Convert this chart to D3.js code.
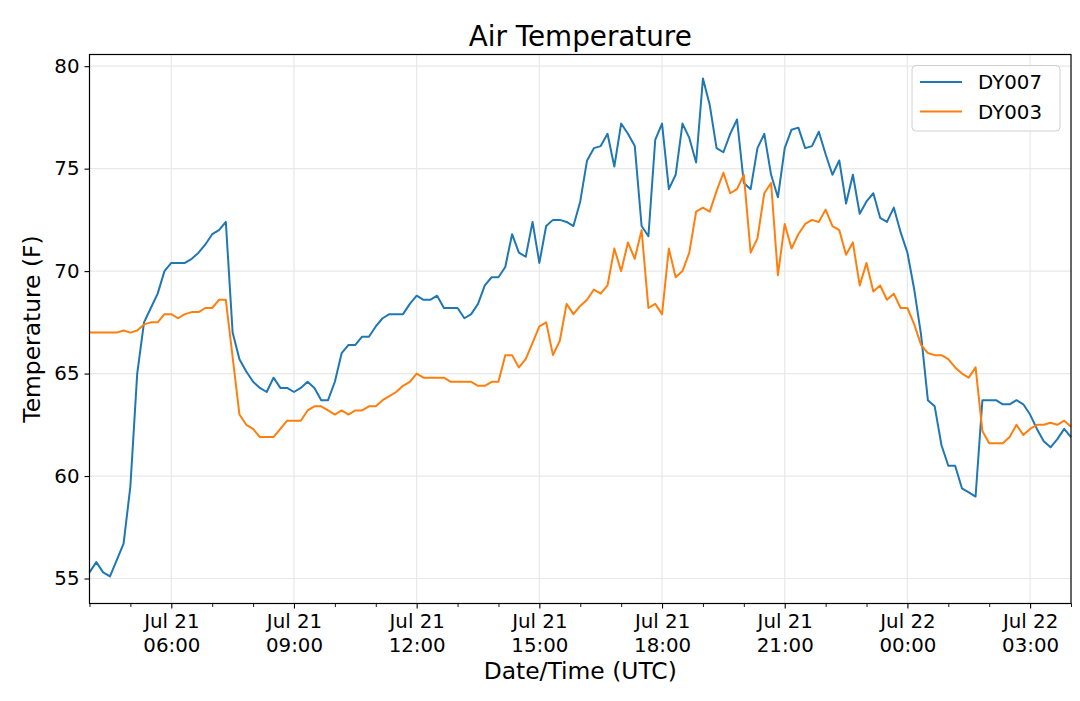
<!DOCTYPE html>
<html><head><meta charset="utf-8">
<script src="https://cdn.jsdelivr.net/npm/d3@7"></script>
<style>body{margin:0;background:#fff} svg text{font-family:"DejaVu Sans",sans-serif;fill:#000}</style>
</head><body><svg id="c" width="1080" height="701"></svg>
<script>
// ---- data ----
const startTime = "2019-07-21T04:00:00Z";   // first sample (UTC)
const stepMinutes = 10;                      // sampling interval
const seriesNames = ["DY007", "DY003"];
const dy007 = [
55.3,55.8,55.3,55.1,55.9,56.7,59.5,65.0,67.5,68.2,68.9,70.0,
70.4,70.4,70.4,70.6,70.9,71.3,71.8,72.0,72.4,67.0,65.7,65.1,
64.6,64.3,64.1,64.8,64.3,64.3,64.1,64.3,64.6,64.3,63.7,63.7,
64.6,66.0,66.4,66.4,66.8,66.8,67.3,67.7,67.9,67.9,67.9,68.4,
68.8,68.6,68.6,68.8,68.2,68.2,68.2,67.7,67.9,68.4,69.3,69.7,
69.7,70.2,71.8,70.9,70.7,72.4,70.4,72.2,72.5,72.5,72.4,72.2,
73.4,75.4,76.0,76.1,76.7,75.1,77.2,76.7,76.1,72.2,71.7,76.4,
77.2,74.0,74.7,77.2,76.5,75.3,79.4,78.1,76.0,75.8,76.7,77.4,
74.3,74.0,76.0,76.7,74.7,73.6,76.0,76.9,77.0,76.0,76.1,76.8,
75.7,74.7,75.4,73.3,74.7,72.8,73.4,73.8,72.6,72.4,73.1,71.9,
70.9,69.1,66.9,63.7,63.4,61.5,60.5,60.5,59.4,59.2,59.0,63.7,
63.7,63.7,63.5,63.5,63.7,63.5,63.0,62.3,61.7,61.4,61.8,62.3,
61.9];
const dy003 = [
67.0,67.0,67.0,67.0,67.0,67.1,67.0,67.1,67.4,67.5,67.5,67.9,
67.9,67.7,67.9,68.0,68.0,68.2,68.2,68.6,68.6,65.8,63.0,62.5,
62.3,61.9,61.9,61.9,62.3,62.7,62.7,62.7,63.2,63.4,63.4,63.2,
63.0,63.2,63.0,63.2,63.2,63.4,63.4,63.7,63.9,64.1,64.4,64.6,
65.0,64.8,64.8,64.8,64.8,64.6,64.6,64.6,64.6,64.4,64.4,64.6,
64.6,65.9,65.9,65.3,65.7,66.5,67.3,67.5,65.9,66.6,68.4,67.9,
68.3,68.6,69.1,68.9,69.3,71.1,70.0,71.4,70.6,72.0,68.2,68.4,
67.9,71.1,69.7,70.0,70.9,72.9,73.1,72.9,73.9,74.8,73.8,74.0,
74.7,70.9,71.6,73.8,74.3,69.8,72.3,71.1,71.8,72.3,72.5,72.4,
73.0,72.2,72.0,70.8,71.4,69.3,70.4,69.0,69.3,68.6,68.9,68.2,
68.2,67.4,66.4,66.0,65.9,65.9,65.7,65.3,65.0,64.8,65.3,62.2,
61.6,61.6,61.6,61.9,62.5,62.0,62.3,62.5,62.5,62.6,62.5,62.7,
62.4];
const yTicks = [55, 60, 65, 70, 75, 80];
const yDomain = [53.78, 80.57];
const titleText = "Air Temperature";
const xLabelText = "Date/Time (UTC)";
const yLabelText = "Temperature (F)";

// ---- style ----
const colors = ["#1f77b4", "#ff7f0e"];
const W = 1080, H = 701;
const m = {left: 89.5, top: 54.5, right: 9, bottom: 97.5};
const iw = W - m.left - m.right, ih = H - m.top - m.bottom;

const t0 = new Date(startTime);
const times = dy007.map((_, i) => new Date(t0.getTime() + i * stepMinutes * 60000));
const series = [dy007, dy003];

const svg = d3.select("#c");
const g = svg.append("g").attr("transform", `translate(${m.left},${m.top})`);

const x = d3.scaleUtc().domain(d3.extent(times)).range([0, iw]);
const y = d3.scaleLinear().domain(yDomain).range([ih, 0]);

const majors = d3.utcHour.every(3).range(x.domain()[0], new Date(x.domain()[1].getTime() + 1));
const minors = d3.utcHour.every(1).range(x.domain()[0], new Date(x.domain()[1].getTime() + 1))
  .filter(d => d.getUTCHours() % 3 !== 0);

// grid
const grid = g.append("g");
grid.selectAll(".gx").data(majors).join("line")
  .attr("x1", d => x(d)).attr("x2", d => x(d)).attr("y1", 0).attr("y2", ih)
  .attr("stroke", "#e8e8e8").attr("stroke-width", 1.2);
grid.selectAll(".gy").data(yTicks).join("line")
  .attr("x1", 0).attr("x2", iw).attr("y1", d => y(d)).attr("y2", d => y(d))
  .attr("stroke", "#e8e8e8").attr("stroke-width", 1.2);

// lines
const line = d3.line().x((d, i) => x(times[i])).y(d => y(d));
series.forEach((s, k) => {
  g.append("path").datum(s).attr("d", line)
    .attr("fill", "none").attr("stroke", colors[k]).attr("stroke-width", 2)
    .attr("stroke-linejoin", "round");
});

// axes
const xAxis = g.append("g").attr("transform", `translate(0,${ih})`)
  .call(d3.axisBottom(x).tickValues(majors).tickSize(5).tickFormat(""));
xAxis.select(".domain").remove();
xAxis.selectAll(".tick line").attr("stroke", "#000").attr("stroke-width", 1.1);
const fmtD = d3.utcFormat("%b %d"), fmtT = d3.utcFormat("%H:%M");
xAxis.selectAll(".tick").each(function(d) {
  const t = d3.select(this).append("text").attr("text-anchor", "middle")
    .style("font-size", "19.8px").attr("fill", "#000");
  t.append("tspan").attr("x", 0).attr("y", 24.5).text(fmtD(d));
  t.append("tspan").attr("x", 0).attr("y", 48.5).text(fmtT(d));
});
const xMinor = g.append("g").attr("transform", `translate(0,${ih})`)
  .call(d3.axisBottom(x).tickValues(minors).tickSize(3.5).tickFormat(""));
xMinor.select(".domain").remove();
xMinor.selectAll(".tick line").attr("stroke", "#000").attr("stroke-width", 0.9);

const yAxis = g.append("g")
  .call(d3.axisLeft(y).tickValues(yTicks).tickSize(5).tickPadding(5).tickFormat(d3.format("d")));
yAxis.select(".domain").remove();
yAxis.selectAll(".tick line").attr("stroke", "#000").attr("stroke-width", 1.1);
yAxis.selectAll(".tick text").style("font-size", "19.8px").attr("fill", "#000")
  .attr("font-family", null);

// frame
g.append("rect").attr("x", 0).attr("y", 0).attr("width", iw).attr("height", ih)
  .attr("fill", "none").attr("stroke", "#000").attr("stroke-width", 1.2);

// title & labels
svg.append("text").attr("x", m.left + iw / 2).attr("y", 46).attr("text-anchor", "middle")
  .style("font-size", "27.8px").text(titleText);
svg.append("text").attr("x", m.left + iw / 2).attr("y", 679).attr("text-anchor", "middle")
  .style("font-size", "23.4px").text(xLabelText);
svg.append("text").attr("transform", `translate(40,${m.top + ih / 2}) rotate(-90)`)
  .attr("text-anchor", "middle").style("font-size", "23.4px").text(yLabelText);

// legend
const lg = svg.append("g");
lg.append("rect").attr("x", 912).attr("y", 65.5).attr("width", 148).attr("height", 65.5)
  .attr("rx", 4).attr("fill", "#fff").attr("fill-opacity", 0.8)
  .attr("stroke", "#d0d0d0").attr("stroke-width", 1);
seriesNames.forEach((n, k) => {
  const yy = 82 + k * 29.5;
  lg.append("line").attr("x1", 920).attr("x2", 962).attr("y1", yy).attr("y2", yy)
    .attr("stroke", colors[k]).attr("stroke-width", 2);
  lg.append("text").attr("x", 978).attr("y", yy + 7).style("font-size", "19.8px").text(n);
});
</script></body></html>
